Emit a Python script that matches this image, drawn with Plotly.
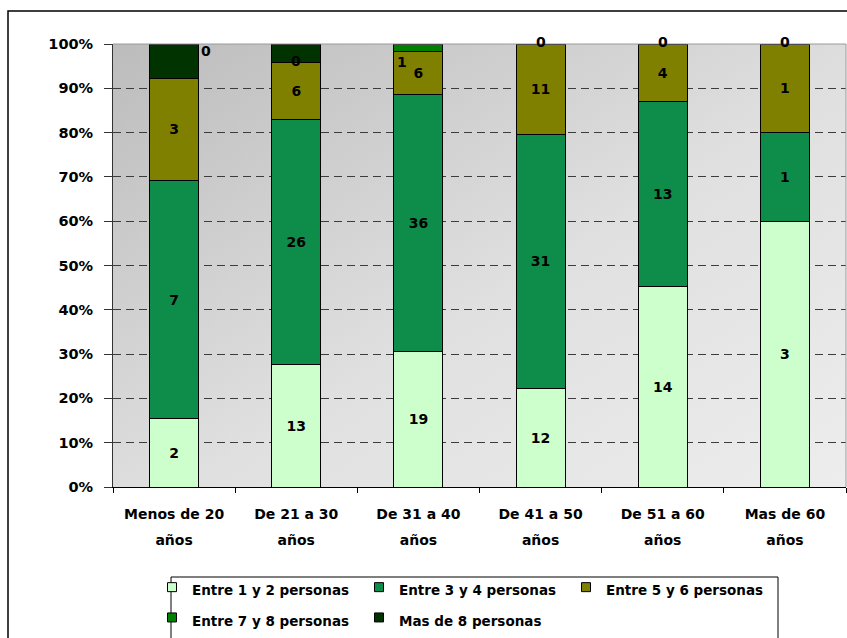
import base64
import plotly.graph_objects as go

# Household size by age bracket (counts per group)
categories = ["Menos de 20 años", "De 21 a 30 años", "De 31 a 40 años",
              "De 41 a 50 años", "De 51 a 60 años", "Mas de 60 años"]
tick_labels = ["Menos de 20<br>años", "De 21 a 30<br>años", "De 31 a 40<br>años",
               "De 41 a 50<br>años", "De 51 a 60<br>años", "Mas de 60<br>años"]
series_names = ["Entre 1 y 2 personas", "Entre 3 y 4 personas", "Entre 5 y 6 personas",
                "Entre 7 y 8 personas", "Mas de 8 personas"]
entre_1_2 = [2, 13, 19, 12, 14, 3]
entre_3_4 = [7, 26, 36, 31, 13, 1]
entre_5_6 = [3, 6, 6, 11, 4, 1]
entre_7_8 = [0, 0, 1, 0, 0, 0]
mas_de_8 = [1, 2, 0, 0, 0, 0]
y_ticks = [0, 10, 20, 30, 40, 50, 60, 70, 80, 90, 100]

series_values = [entre_1_2, entre_3_4, entre_5_6, entre_7_8, mas_de_8]
colors = ["#CCFFCC", "#0E8C4A", "#808000", "#008000", "#003300"]
show_text = [True, True, True, False, False]

W, H = 847, 638
ML, MR, MT, MB = 113, 1, 44, 151
PW, PH = W - ML - MR, H - MT - MB

FONT = "DejaVu Sans"


def px_x(p):
    return (p - ML) / PW


def px_y(p):
    return (H - MB - p) / PH


def span(txt, size):
    return "<br>".join(f'<span style="font-size:{size}px">{part}</span>' for part in txt.split("<br>"))


fig = go.Figure()

for name, vals, col, st in zip(series_names, series_values, colors, show_text):
    fig.add_trace(go.Bar(
        x=categories, y=vals, name=name,
        marker=dict(color=col, line=dict(color="black", width=1)),
        text=[str(v) for v in vals] if st else None,
        texttemplate="%{text}" if st else None,
        textposition="inside" if st else "none",
        insidetextanchor="middle",
        textangle=0,
        constraintext="none",
        textfont=dict(family=FONT, size=14, color="black", weight="bold"),
        showlegend=False,
        hoverinfo="skip",
    ))

# Legend entries with small square swatches
for name, col in zip(series_names, colors):
    fig.add_trace(go.Scatter(
        x=[None], y=[None], mode="markers", name=span(name, 13.5),
        marker=dict(symbol="square", size=9, color=col, line=dict(color="black", width=1)),
    ))

# Labels for the thin "Entre 7 y 8" segment, placed at the top of that segment
totals = [sum(s[i] for s in series_values) for i in range(len(categories))]
lbl_dx = [32, 0, -16, 0, 0, 0]
lbl_dy = [27, 2, -18, 2, 2, 2]
annotations = []
for i, cat in enumerate(categories):
    top = sum(series_values[k][i] for k in range(4)) / totals[i] * 100
    annotations.append(dict(
        x=cat, y=top, xref="x", yref="y", text=str(entre_7_8[i]), showarrow=False,
        xshift=lbl_dx[i], yshift=lbl_dy[i],
        font=dict(family=FONT, size=14, color="black", weight="bold"),
    ))

# Plot-area gradient fill
svg = (
    f'<svg xmlns="http://www.w3.org/2000/svg" width="{PW}" height="{PH}" '
    f'viewBox="0 0 {PW} {PH}" preserveAspectRatio="none">'
    '<defs><linearGradient id="g" x1="0" y1="0" x2="1" y2="1">'
    '<stop offset="0" stop-color="#bcbcbc"/>'
    '<stop offset="0.55" stop-color="#e0e0e0"/>'
    '<stop offset="1" stop-color="#ededed"/>'
    '</linearGradient></defs>'
    f'<rect width="{PW}" height="{PH}" fill="url(#g)"/></svg>'
)
svg_uri = "data:image/svg+xml;base64," + base64.b64encode(svg.encode()).decode()

shapes = [
    # outer chart frame
    dict(type="rect", xref="paper", yref="paper",
         x0=px_x(8), x1=px_x(W + 20), y0=px_y(H + 20), y1=px_y(11),
         line=dict(color="black", width=1.5), fillcolor="rgba(0,0,0,0)", layer="below"),
    # plot area top and right edges
    dict(type="line", xref="paper", yref="paper", x0=0, x1=1, y0=1, y1=1,
         line=dict(color="#9a9a9a", width=1)),
    dict(type="line", xref="paper", yref="paper", x0=1, x1=1, y0=0, y1=1,
         line=dict(color="#9a9a9a", width=1)),
    # legend frame
    dict(type="rect", xref="paper", yref="paper",
         x0=px_x(171), x1=px_x(778), y0=px_y(H + 20), y1=px_y(577),
         line=dict(color="black", width=1), fillcolor="rgba(0,0,0,0)"),
]

fig.update_layout(
    width=W, height=H,
    margin=dict(l=ML, r=MR, t=MT, b=MB, pad=0, autoexpand=False),
    paper_bgcolor="white",
    plot_bgcolor="rgba(0,0,0,0)",
    barmode="stack",
    barnorm="percent",
    bargap=0.6,
    font=dict(family=FONT, color="black"),
    images=[dict(source=svg_uri, xref="paper", yref="paper", x=0, y=1,
                 sizex=1, sizey=1, sizing="stretch", xanchor="left", yanchor="top",
                 layer="below")],
    shapes=shapes,
    annotations=annotations,
    legend=dict(
        orientation="h", xref="container", yref="container",
        x=152 / W, y=1 - 567 / H, xanchor="left", yanchor="top",
        font=dict(family=FONT, size=21, color="black", weight="bold"),
        entrywidth=162, entrywidthmode="pixels",
        bgcolor="rgba(0,0,0,0)", borderwidth=0, itemwidth=30,
        traceorder="normal",
    ),
    xaxis=dict(
        type="category", categoryorder="array", categoryarray=categories,
        tickvals=categories,
        ticktext=[span(t, 14) for t in tick_labels],
        tickfont=dict(family=FONT, size=20, color="black", weight="bold"),
        tickson="boundaries", ticks="outside", ticklen=5, tickcolor="black",
        showline=True, linecolor="black", linewidth=1, ticklabelstandoff=7,
        showgrid=False, zeroline=False, fixedrange=True,
    ),
    yaxis=dict(
        range=[0, 100], tickvals=y_ticks, ticktext=[f"{v}%" for v in y_ticks],
        tickfont=dict(family=FONT, size=14.5, color="black", weight="bold"),
        ticks="outside", ticklen=8, tickcolor="#333333",
        showline=True, linecolor="#333333", linewidth=1,
        showgrid=True, gridcolor="#3c3c3c", gridwidth=1, griddash="8px,5px",
        zeroline=False, ticklabelstandoff=8, fixedrange=True,
    ),
)

fig.write_html("out.html")
